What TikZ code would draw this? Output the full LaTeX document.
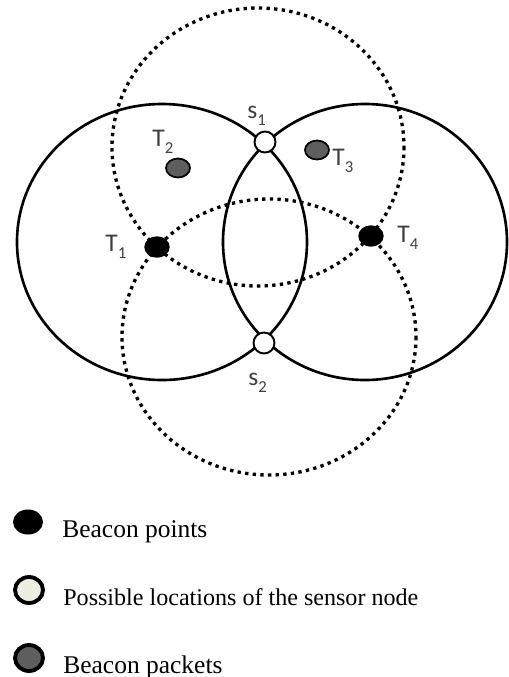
\documentclass[tikz,border=0pt]{standalone}
\usepackage{fontspec}
\setmainfont{Liberation Serif}
\newfontfamily\lblfont{Carlito}
\usetikzlibrary{shapes.geometric}

\definecolor{lblgray}{HTML}{3F3F3F}
\definecolor{packetgray}{HTML}{5E5E5E}
\definecolor{spotcream}{HTML}{EEEDE2}

\newcommand{\tsub}[2]{#1\raisebox{-4pt}{\fontsize{9.5}{9.5}\selectfont #2}}

\begin{document}
\begin{tikzpicture}[x=0.02cm, y=-0.02cm,
    reach/.style={line width=1.5pt},
    hear/.style={line width=1.9pt, dash pattern=on 1.9pt off 2.45pt},
    beacon/.style={ellipse, draw, fill=black, line width=0.8pt, minimum width=0.48cm, minimum height=0.40cm, inner sep=0pt},
    packet/.style={ellipse, draw, fill=packetgray, line width=1pt, minimum width=0.48cm, minimum height=0.38cm, inner sep=0pt},
    spot/.style={circle, draw, fill=white, line width=1.1pt, minimum size=0.42cm, inner sep=0pt},
    lbl/.style={anchor=base west, inner sep=0pt, text=lblgray, font=\lblfont\fontsize{14.5}{14.5}\selectfont},
    legmark/.style={ellipse, draw, line width=2.2pt, minimum width=0.56cm, minimum height=0.52cm, inner sep=0pt},
    legtxt/.style={anchor=base west, inner sep=0pt, font=\fontsize{14.5}{17}\selectfont},
]
    \useasboundingbox (0,0) rectangle (508,677);

    % hearing ranges of the beacon packets
    \draw[hear] (258,147) ellipse [x radius=146, y radius=139];
    \draw[hear] (269,337) ellipse [x radius=147, y radius=138];
    % ranges of the beacon points
    \draw[reach] (162,242) ellipse [x radius=145, y radius=138];
    \draw[reach] (365,242) ellipse [x radius=142, y radius=138];

    \node[beacon] (t1) at (157,247) {};
    \node[beacon] (t4) at (371,236) {};
    \node[packet] (t2) at (178,168) {};
    \node[packet] (t3) at (317,150) {};
    \node[spot] (s1) at (265,142) {};
    \node[spot] (s2) at (264,343) {};

    \node[lbl] (t1l) at (105,251) {\tsub{T}{1}};
    \node[lbl] (t2l) at (152,146) {\tsub{T}{2}};
    \node[lbl] (t3l) at (332,165) {\tsub{T}{3}};
    \node[lbl] (t4l) at (397,242) {\tsub{T}{4}};
    \node[lbl] (s1l) at (247,118) {\tsub{s}{1}};
    \node[lbl] (s2l) at (248,385) {\tsub{s}{2}};

    % legend
    \node[ellipse, fill=black, minimum width=0.6cm, minimum height=0.5cm, inner sep=0pt] (k1) at (28,522) {};
    \node[legmark, fill=spotcream] (k2) at (29,590) {};
    \node[legmark, fill=packetgray] (k3) at (29,658) {};
    \node[legtxt] (k1t) at (62,537) {Beacon points};
    \node[legtxt, font=\fontsize{13.7}{17}\selectfont] (k2t) at (63,605) {Possible locations of the sensor node};
    \node[legtxt] (k3t) at (63,673) {Beacon packets};
\end{tikzpicture}
\end{document}
